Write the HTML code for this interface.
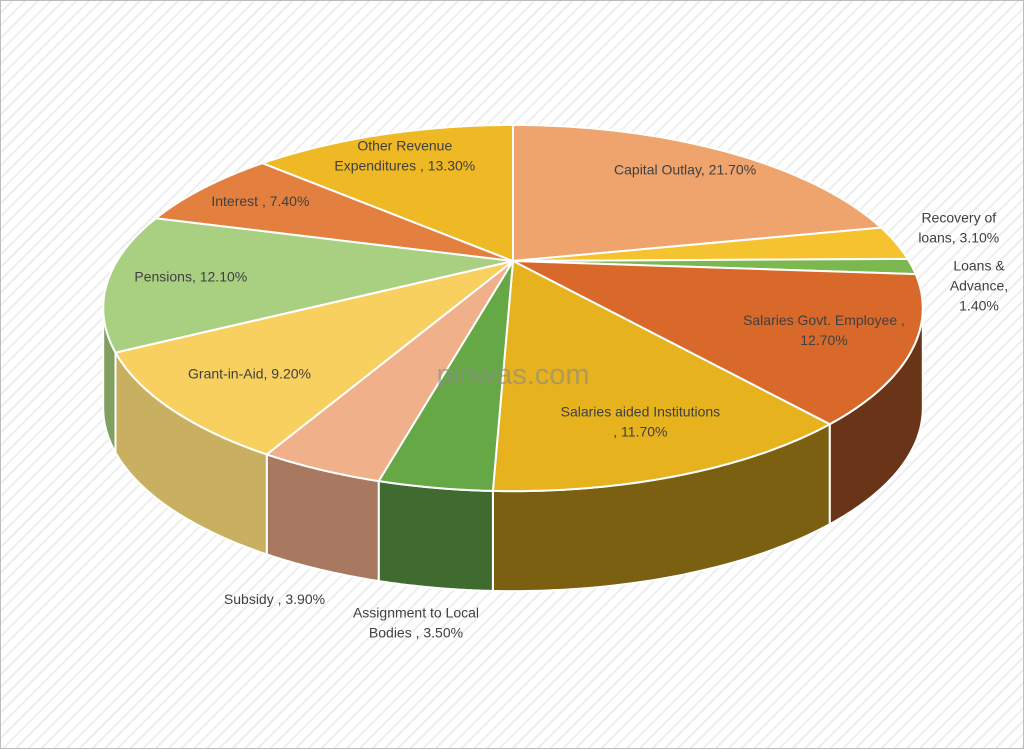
<!DOCTYPE html>
<html><head><meta charset="utf-8"><style>
html,body{margin:0;padding:0}
body{width:1024px;height:749px;overflow:hidden;background:#fff}
#wrap{position:absolute;left:0;top:0;width:1022px;height:747px;border:1px solid #bcbcbc;
background:repeating-linear-gradient(135deg,#ffffff 0px,#ffffff 7px,#eeeeee 7px,#eeeeee 9px)}
svg{position:absolute;left:0;top:0}
text{font-family:"Liberation Sans",sans-serif;font-size:14px;fill:#404040}
</style></head><body>
<div id="wrap">
<svg id="chart" width="1024" height="749"></svg>
</div>
<script>
const categories=["Capital Outlay, 21.70%","Recovery of\nloans, 3.10%","Loans &\nAdvance,\n1.40%","Salaries Govt. Employee ,\n12.70%","Salaries aided Institutions\n, 11.70%","Assignment to Local\nBodies , 3.50%","Subsidy , 3.90%","Grant-in-Aid, 9.20%","Pensions, 12.10%","Interest , 7.40%","Other Revenue\nExpenditures , 13.30%"];
const values=[21.7,3.1,1.4,12.7,11.7,3.5,3.9,9.2,12.1,7.4,13.3];
const topColors=["#eea46c","#f5c230","#7cb850","#d8692a","#e6b21e","#66a846","#efb08a","#f8d060","#a8d080","#e38040","#eeb925"];
const sideColors=["#a85a20","#a07a10","#4a7a30","#6a3418","#7a6010","#3f6a30","#a87860","#c8b060","#80a060","#a05020","#a08010"];
const outside=[false,true,true,false,false,true,true,false,false,false,false];
const svg=document.getElementById('chart');
const NS='http://www.w3.org/2000/svg';
const ax=512,ay=260,A=396,B=171,P=0.257,depth=100;
function proj(t,r){const w=1+P*r*Math.cos(t);return [ax+A*r*Math.sin(t)/w, ay-B*r*Math.cos(t)/w];}
const total=values.reduce((a,b)=>a+b,0);
let acc=0;const segs=values.map(v=>{const a1=acc/total*2*Math.PI;acc+=v;return [a1,acc/total*2*Math.PI];});
const sil1=Math.acos(-P),sil2=2*Math.PI-Math.acos(-P);
segs.forEach((s,i)=>{
  let a=Math.max(s[0],sil1),b=Math.min(s[1],sil2);
  if(b<=a)return;
  let pts=[];const n=40;
  for(let k=0;k<=n;k++)pts.push(proj(a+(b-a)*k/n,1));
  let d='M'+pts.map(p=>p[0].toFixed(1)+','+p[1].toFixed(1)).join(' L');
  for(let k=n;k>=0;k--){const p=pts[k];d+=' L'+p[0].toFixed(1)+','+(p[1]+depth).toFixed(1);}
  d+='Z';
  const el=document.createElementNS(NS,'path');
  
  
  el.setAttribute('d',d);el.setAttribute('fill',sideColors[i]);el.setAttribute('stroke','#fff');el.setAttribute('stroke-width','2');
  svg.appendChild(el);
});
segs.forEach((s,i)=>{
  let d='M'+ax+','+ay;const n=60;
  for(let k=0;k<=n;k++){const p=proj(s[0]+(s[1]-s[0])*k/n,1);d+=' L'+p[0].toFixed(1)+','+p[1].toFixed(1);}
  d+='Z';
  const el=document.createElementNS(NS,'path');
  
  
  el.setAttribute('d',d);el.setAttribute('fill',topColors[i]);el.setAttribute('stroke','#fff');el.setAttribute('stroke-width','2');
  svg.appendChild(el);
});
segs.forEach((s,i)=>{
  const m=(s[0]+s[1])/2;
  let [x,y]=proj(m,outside[i]?1.17:0.8);
  if(outside[i]&&Math.cos(m)<-0.3)y+=80;
  if(outside[i]&&Math.cos(m)>=-0.3&&Math.cos(m)<0)y+=18;
  if(outside[i]&&Math.cos(m)>=0)y-=12;
  if(x>978)x=978;
  const lines=categories[i].split('\n');
  const t=document.createElementNS(NS,'text');
  
  
  t.setAttribute('text-anchor','middle');
  lines.forEach((ln,k)=>{const ts=document.createElementNS(NS,'tspan');ts.setAttribute('x',x.toFixed(1));ts.setAttribute('y',(y+(k-(lines.length-1)/2)*20+5).toFixed(1));ts.textContent=ln;t.appendChild(ts);});
  svg.appendChild(t);
});
const wm=document.createElementNS(NS,'text');


wm.setAttribute('x','512');wm.setAttribute('y','383');wm.setAttribute('text-anchor','middle');
wm.setAttribute('style','font-size:29px;fill:#8a8a8a;opacity:0.6');wm.textContent='pinwas.com';
svg.appendChild(wm);
</script>
</body></html>
